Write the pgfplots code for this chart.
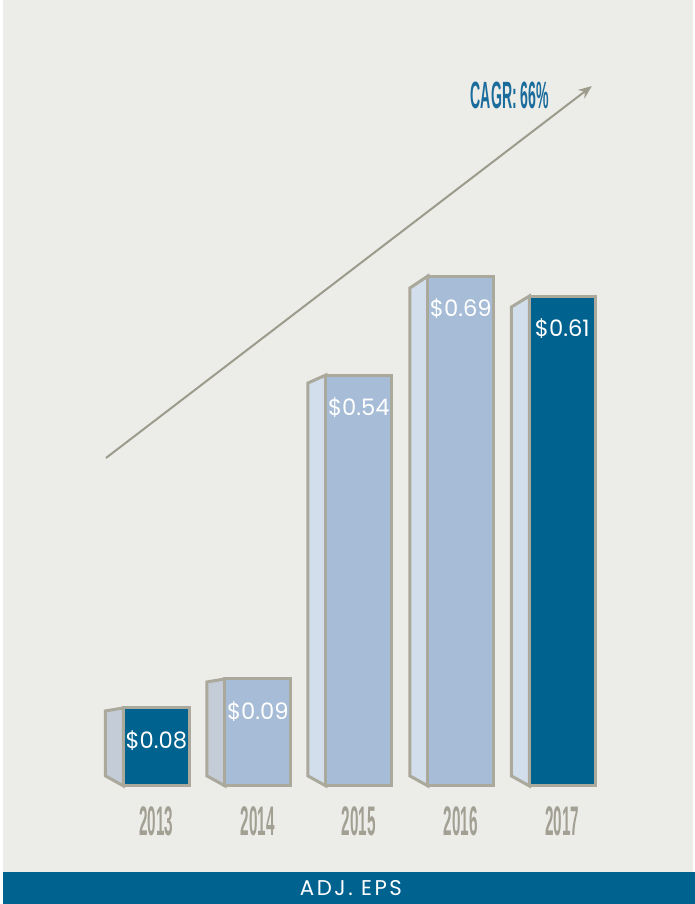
\documentclass[border=0pt]{standalone}
\usepackage{pgfplots}
\pgfplotsset{compat=1.18}
\usepackage{pgfplotstable}
\usepackage{fontspec}
\setmainfont{Poppins}
\newfontfamily\cond[FakeStretch=0.37]{Liberation Sans}
\usetikzlibrary{arrows.meta}
\definecolor{bgc}{HTML}{ECECE8}
\definecolor{darkb}{HTML}{00628F}
\definecolor{lightb}{HTML}{A7BCD6}
\definecolor{sided}{HTML}{C4CDD7}
\definecolor{sidel}{HTML}{D3DEEC}
\definecolor{outl}{HTML}{ABA89C}
\definecolor{yeargray}{HTML}{A29F93}
\definecolor{arrowc}{HTML}{9C9B8C}
\definecolor{cagrc}{HTML}{1A6C9C}
% x = bar centre, h = drawn height, val = label value
\pgfplotstableread{
x h val
156.5 78 0.08
562.5 490 0.61
}\darkbars
\pgfplotstableread{
x h val
258 107 0.09
359 411 0.54
461 510 0.69
}\lightbars
\begin{document}
\begin{tikzpicture}
% panel and band (1px = 0.75pt), axis box south west at (0,0)
\fill[white] (0,0) rectangle (521.25pt,678pt);
\fill[bgc] (2.25pt,24pt) rectangle (519.75pt,678pt);
\fill[darkb] (2.25pt,0pt) rectangle (521.25pt,24pt);
\begin{axis}[
  at={(0,0)}, anchor=south west,
  x=0.75pt, y=0.75pt,
  xmin=0, xmax=695, ymin=-118, ymax=786,
  axis line style={draw=none},
  major tick length=0pt,
  ytick=\empty,
  xtick={156.5,258,359,461,562.5},
  xticklabels={2013,2014,2015,2016,2017},
  xticklabel style={font=\cond\bfseries\fontsize{31}{31}\selectfont, text=yeargray, anchor=center, yshift=62.25pt},
  clip=false,
]
\node[text=white, font=\addfontfeatures{LetterSpace=12}\fontsize{16}{16}\selectfont] at (axis cs:351,-102) {ADJ. EPS};
% arrow
\draw[arrowc, line width=1.5pt, -{Stealth[length=10pt,width=8pt]}] (axis cs:106,328) -- (axis cs:592,700);
\node[text=cagrc, font=\cond\bfseries\fontsize{28.5}{29}\selectfont] at (axis cs:510,690.5) {CAGR: 66\%};
% side faces
\addplot[fill=sided, draw=outl, line width=2.25pt, line join=miter] coordinates {(105.5,10) (123.5,0) (123.5,78) (105.5,75)} --cycle;
\addplot[fill=sided, draw=outl, line width=2.25pt, line join=miter] coordinates {(207,10) (225,0) (225,107) (207,104)} --cycle;
\addplot[fill=sidel, draw=outl, line width=2.25pt, line join=miter] coordinates {(308,10) (326,0) (326,411) (308,403)} --cycle;
\addplot[fill=sidel, draw=outl, line width=2.25pt, line join=miter] coordinates {(410,10) (428,0) (428,510) (410,498)} --cycle;
\addplot[fill=sidel, draw=outl, line width=2.25pt, line join=miter] coordinates {(511.5,10) (529.5,0) (529.5,490) (511.5,479)} --cycle;
% front faces
\addplot[ybar, bar width=66, bar shift=0pt, fill=darkb, draw=outl, line width=2.25pt,
  point meta=explicit symbolic, nodes near coords={\$\pgfplotspointmeta},
  every node near coord/.append style={font=\fontsize{17}{17}\selectfont, text=white, anchor=center, yshift=-24.75pt}]
  table[x=x, y=h, meta=val] {\darkbars};
\addplot[ybar, bar width=66, bar shift=0pt, fill=lightb, draw=outl, line width=2.25pt,
  point meta=explicit symbolic, nodes near coords={\$\pgfplotspointmeta},
  every node near coord/.append style={font=\fontsize{17}{17}\selectfont, text=white, anchor=center, yshift=-24.75pt}]
  table[x=x, y=h, meta=val] {\lightbars};
\end{axis}
\end{tikzpicture}
\end{document}
